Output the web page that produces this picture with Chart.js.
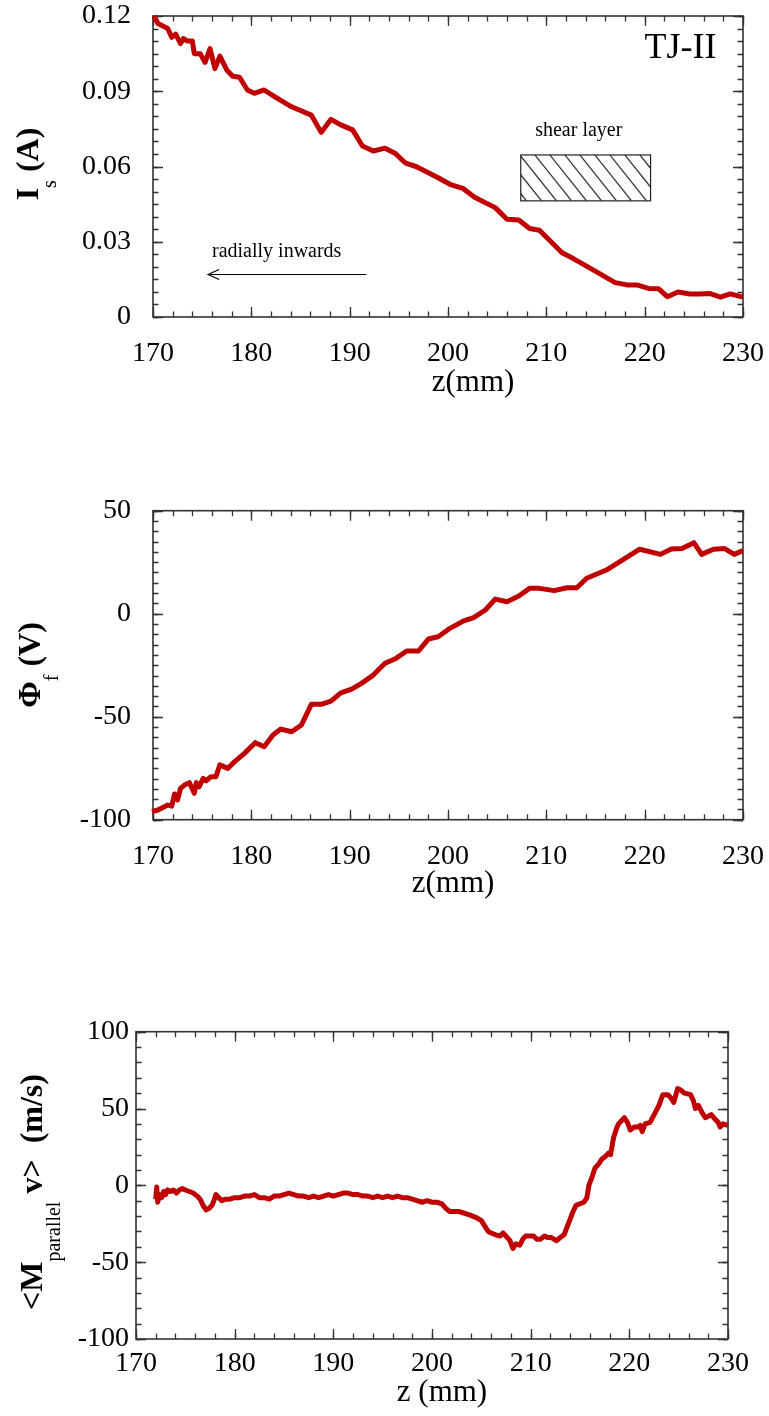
<!DOCTYPE html>
<html>
<head>
<meta charset="UTF-8">
<title>TJ-II edge profiles</title>
<script src="https://cdn.jsdelivr.net/npm/chart.js@4.4.1/dist/chart.umd.min.js"></script>
<style>
  body { margin: 0; background: #fff; width: 769px; height: 1416px; position: relative; overflow: hidden; }
  .panel { position: absolute; left: 0; width: 769px; }
</style>
</head>
<body>
<div class="panel" style="top:0;height:420px"><canvas id="c1"></canvas></div>
<div class="panel" style="top:470px;height:440px"><canvas id="c2"></canvas></div>
<div class="panel" style="top:990px;height:426px"><canvas id="c3"></canvas></div>

<script>
// ---- data ----
const zTicks = [170, 180, 190, 200, 210, 220, 230];

// ion saturation current I_s (A)
const zIs = [170.1,170.5,171.0,171.5,171.9,172.3,172.8,173.1,173.5,174.0,
  174.2,174.8,175.3,175.8,176.3,176.8,177.5,178.1,178.8,179.6,
  180.3,181.3,182.4,184.1,186.1,187.1,188.1,189.1,190.3,191.3,
  192.4,193.6,194.6,195.7,196.8,198.9,200.2,201.5,202.7,204.8,
  206.0,207.2,208.3,209.3,211.6,212.7,214.8,217.0,218.2,219.2,
  220.4,221.4,222.3,223.4,224.6,225.6,226.6,227.7,228.7,230.0];
const iSat = [0.120,0.117,0.116,0.115,0.1115,0.1128,0.109,0.111,0.110,0.110,
  0.105,0.105,0.1015,0.107,0.099,0.104,0.0985,0.096,0.0956,0.0905,
  0.0892,0.0905,0.0878,0.0838,0.0805,0.0736,0.0788,0.0766,0.0746,0.0682,
  0.0662,0.0673,0.0653,0.0613,0.0599,0.0557,0.0529,0.0513,0.0477,0.0436,
  0.0390,0.0387,0.0353,0.0346,0.0256,0.0234,0.0187,0.0137,0.0128,0.0128,
  0.0114,0.0113,0.0081,0.0100,0.0092,0.0092,0.0094,0.0079,0.0092,0.0079];
const isTicks = [0, 0.03, 0.06, 0.09, 0.12];

// floating potential Phi_f (V)
const zPhi = [169.9,170.5,171.5,171.9,172.2,172.5,172.8,173.2,173.7,174.2,
  174.4,174.7,175.1,175.4,175.9,176.4,176.8,177.6,178.3,179.3,
  180.4,181.3,182.2,183.0,184.1,185.1,186.1,187.1,188.1,189.1,
  190.2,191.2,192.4,193.6,194.7,195.8,197.0,198.0,199.0,200.2,
  201.6,202.6,203.8,204.8,206.0,207.2,208.3,209.3,210.8,212.1,
  213.1,214.1,216.1,217.6,219.5,221.6,222.7,223.8,225.0,225.8,
  227.0,228.1,229.1,230.0];
const phiF = [-96.1,-95.3,-92.9,-93.4,-87.5,-90.4,-84.8,-83.2,-82.0,-87.2,
  -82.0,-84.0,-79.9,-81.1,-79.1,-79.1,-73.4,-75.1,-71.8,-67.8,
  -62.6,-64.6,-58.9,-56.0,-57.3,-54.0,-44.0,-44.0,-42.4,-38.4,
  -36.6,-33.8,-29.8,-24.1,-21.7,-18.1,-18.1,-12.3,-11.2,-7.1,
  -3.5,-1.9,1.8,7.1,5.8,8.6,12.3,12.3,11.2,12.6,
  12.6,17.2,21.2,25.6,31.3,28.8,31.4,31.7,34.5,28.8,
  31.3,31.7,28.8,30.6];
const phiTicks = [-100, -50, 0, 50];

// <M_parallel v> (m/s)
const zMv = [172.0,172.1,172.2,172.4,172.6,172.8,173.0,173.2,173.5,173.8,
  174.1,174.4,174.7,175.0,175.4,175.8,176.2,176.5,176.8,177.1,
  177.4,177.7,177.9,178.1,178.4,178.7,179.0,179.5,180.0,180.5,
  181.0,181.5,182.0,182.5,183.0,183.5,184.0,184.5,185.0,185.5,
  186.0,186.5,187.0,187.5,188.0,188.5,189.0,189.5,190.0,190.5,
  191.0,191.5,192.0,192.5,193.0,193.5,194.0,194.5,195.0,195.5,
  196.0,196.5,197.0,197.5,198.0,198.5,199.0,199.5,200.0,200.5,
  201.0,201.4,201.8,202.2,202.7,203.2,203.7,204.1,204.5,205.0,
  205.4,205.7,206.0,206.4,206.9,207.2,207.5,207.9,208.2,208.5,
  208.9,209.2,209.5,209.9,210.3,210.6,211.0,211.4,211.7,212.1,
  212.6,213.0,213.4,213.7,214.0,214.3,214.6,215.0,215.4,215.7,
  215.9,216.2,216.5,216.9,217.2,217.6,217.9,218.1,218.4,218.7,
  218.9,219.2,219.5,219.8,220.1,220.5,220.9,221.1,221.3,221.6,
  222.1,222.6,223.0,223.4,223.9,224.2,224.5,224.9,225.2,225.6,
  226.2,226.5,226.7,227.0,227.4,227.7,228.0,228.3,228.7,229.0,
  229.2,229.5,230.0];
const mv = [-9,-1,-11,-6,-8,-4,-6,-3,-4,-3,
  -5,-3,-2,-3,-4,-5,-7,-9,-13,-16,
  -15,-13,-10,-6,-8,-10,-9,-9,-8,-8,
  -7,-7,-6,-8,-8,-9,-7,-7,-6,-5,
  -6,-7,-7,-8,-7,-8,-7,-6,-7,-6,
  -5,-5,-6,-6,-7,-7,-8,-7,-8,-7,
  -8,-7,-8,-8,-9,-10,-11,-10,-11,-11,
  -12,-15,-17,-17,-17,-18,-19,-20,-21,-23,
  -27,-30,-31,-32,-33,-31,-33,-36,-41,-38,
  -39,-35,-33,-33,-33,-35,-35,-33,-34,-34,
  -36,-34,-32,-27,-22,-17,-13,-12,-11,-8,
  0,5,11,14,17,19,21,20,31,37,
  40,42,44,41,36,38,38,39,35,40,
  41,47,52,59,59,57,54,63,62,60,
  59,55,50,52,47,44,45,46,43,41,
  38,40,39];
const mvTicks = [-100, -50, 0, 50, 100];

// ---- drawing helpers ----
const SERIF = '"Liberation Serif", "Times New Roman", serif';
const RED = '#c00000';

// frame with inward ticks on all four sides, plus axis titles
const framePlugin = {
  id: 'frame',
  beforeDatasetsDraw(chart, args, o) {
    const {ctx, chartArea: a, scales: {x, y}} = chart;
    ctx.save();
    ctx.strokeStyle = '#333';
    ctx.lineWidth = 1.3;
    const tick = (scale, step, len) => {
      const n = Math.round((scale.max - scale.min) / step);
      for (let i = 0; i <= n; i++) {
        const p = Math.round(scale.getPixelForValue(scale.min + i * step)) + 0.5;
        ctx.beginPath();
        if (scale.isHorizontal()) {
          ctx.moveTo(p, a.bottom); ctx.lineTo(p, a.bottom - len);
          ctx.moveTo(p, a.top); ctx.lineTo(p, a.top + len);
        } else {
          ctx.moveTo(a.left, p); ctx.lineTo(a.left + len, p);
          ctx.moveTo(a.right, p); ctx.lineTo(a.right - len, p);
        }
        ctx.stroke();
      }
    };
    tick(x, o.xMinor, 5.5); tick(x, o.xMajor, 10);
    tick(y, o.yMinor, 5.5); tick(y, o.yMajor, 10);
    ctx.lineWidth = 1.6;
    ctx.strokeRect(a.left, a.top, a.right - a.left, a.bottom - a.top);
    ctx.restore();
  },
  afterDraw(chart, args, o) {
    const ctx = chart.ctx;
    ctx.save();
    ctx.fillStyle = '#000';
    ctx.font = '31px ' + SERIF;
    ctx.textAlign = 'center';
    ctx.textBaseline = 'middle';
    ctx.fillText(o.xTitle, o.xTitleX, o.xTitleY);

    // rotated y title built from parts (subscripts dropped to the right)
    const mainFont = 'bold 32px ' + SERIF;
    const subFont = '20px ' + SERIF;
    let total = 0;
    o.yParts.forEach(p => { ctx.font = p.sub ? subFont : mainFont; total += ctx.measureText(p.t).width; });
    ctx.translate(o.yBase, o.yCenter);
    ctx.rotate(-Math.PI / 2);
    ctx.textAlign = 'left';
    ctx.textBaseline = 'alphabetic';
    let px = -total / 2;
    o.yParts.forEach(p => {
      ctx.font = p.sub ? subFont : mainFont;
      ctx.fillText(p.t, px, p.sub ? 18 : 0);
      px += ctx.measureText(p.t).width;
    });
    ctx.restore();
  }
};

// annotations of the top panel
const notesPlugin = {
  id: 'notes',
  beforeDatasetsDraw(chart) {
    const {ctx, scales: {x, y}} = chart;
    ctx.save();
    // hatched "shear layer" box
    const l = x.getPixelForValue(207.4), r = x.getPixelForValue(220.6);
    const t = y.getPixelForValue(0.0646), b = y.getPixelForValue(0.0463);
    ctx.save();
    ctx.beginPath(); ctx.rect(l, t, r - l, b - t); ctx.clip();
    ctx.strokeStyle = '#333'; ctx.lineWidth = 1.3;
    const h = b - t;
    for (let k = -h; k < r - l + 5; k += 15) {
      ctx.beginPath();
      ctx.moveTo(l + k, t); ctx.lineTo(l + k + h * 0.8, b);
      ctx.stroke();
    }
    ctx.restore();
    ctx.strokeStyle = '#222'; ctx.lineWidth = 1.2;
    ctx.strokeRect(l, t, r - l, b - t);

    ctx.fillStyle = '#000';
    ctx.font = '20px ' + SERIF;
    ctx.textAlign = 'center'; ctx.textBaseline = 'middle';
    ctx.fillText('shear layer', x.getPixelForValue(213.3), y.getPixelForValue(0.0742));

    ctx.textAlign = 'left';
    ctx.fillText('radially inwards', x.getPixelForValue(176.0), y.getPixelForValue(0.0262));

    // arrow pointing inwards (to smaller z)
    const ay = Math.round(y.getPixelForValue(0.0171)) + 0.5;
    const ax0 = x.getPixelForValue(191.7), ax1 = x.getPixelForValue(175.6);
    ctx.strokeStyle = '#000'; ctx.lineWidth = 1.2;
    ctx.beginPath(); ctx.moveTo(ax0, ay); ctx.lineTo(ax1 + 2, ay); ctx.stroke();
    ctx.beginPath();
    ctx.moveTo(ax1 + 11, ay - 5); ctx.lineTo(ax1, ay); ctx.lineTo(ax1 + 11, ay + 5);
    ctx.stroke();

    ctx.font = '36px ' + SERIF;
    ctx.textAlign = 'right'; ctx.textBaseline = 'alphabetic';
    ctx.fillText('TJ-II', x.getPixelForValue(227.3), y.getPixelForValue(0.1033));
    ctx.restore();
  }
};

function makeChart(id, cfg) {
  const pts = cfg.z.map((z, i) => ({x: z, y: cfg.v[i]}));
  return new Chart(document.getElementById(id), {
    type: 'line',
    data: {
      datasets: [{
        data: pts,
        borderColor: RED,
        borderWidth: cfg.lineWidth,
        borderJoinStyle: 'round',
        pointRadius: 0,
        tension: 0,
        clip: false
      }]
    },
    options: {
      responsive: true,
      maintainAspectRatio: false,
      animation: false,
      layout: { padding: cfg.padding },
      plugins: {
        legend: { display: false },
        tooltip: { enabled: false },
        frame: cfg.frame
      },
      scales: {
        x: {
          type: 'linear',
          min: 170, max: 230,
          afterBuildTicks: s => { s.ticks = zTicks.map(v => ({value: v})); },
          afterFit: s => { s.height = 60; s.paddingLeft = 0; s.paddingRight = 0; },
          grid: { display: false, drawTicks: false },
          border: { display: false },
          ticks: {
            autoSkip: false, maxRotation: 0,
            padding: cfg.xPad, color: '#000',
            font: { family: SERIF, size: 28, lineHeight: 1 }
          }
        },
        y: {
          min: cfg.yTicks[0], max: cfg.yTicks[cfg.yTicks.length - 1],
          afterBuildTicks: s => { s.ticks = cfg.yTicks.map(v => ({value: v})); },
          afterFit: s => { s.width = cfg.yWidth; s.paddingTop = 0; s.paddingBottom = 0; },
          grid: { display: false, drawTicks: false },
          border: { display: false },
          ticks: {
            autoSkip: false,
            padding: cfg.yPad, color: '#000',
            font: { family: SERIF, size: 28, lineHeight: 1 },
            callback: cfg.yFormat
          }
        }
      }
    },
    plugins: cfg.extra ? [framePlugin, cfg.extra] : [framePlugin]
  });
}

makeChart('c1', {
  z: zIs, v: iSat, yTicks: isTicks, lineWidth: 5,
  padding: { top: 16, right: 26, bottom: 43, left: 0 },
  yWidth: 153, xPad: 23, yPad: 22,
  yFormat: v => v === 0 ? '0' : v.toFixed(2),
  frame: {
    xMinor: 2, xMajor: 10, yMinor: 0.005, yMajor: 0.03,
    xTitle: 'z(mm)', xTitleX: 473, xTitleY: 383,
    yBase: 38, yCenter: 164,
    yParts: [{t: 'I'}, {t: 's', sub: true}, {t: ' (A)'}]
  },
  extra: notesPlugin
});

makeChart('c2', {
  z: zPhi, v: phiF, yTicks: phiTicks, lineWidth: 5,
  padding: { top: 40.7, right: 26, bottom: 30.3, left: 0 },
  yWidth: 153, xPad: 23, yPad: 22,
  yFormat: v => String(v),
  frame: {
    xMinor: 2, xMajor: 10, yMinor: 5, yMajor: 50,
    xTitle: 'z(mm)', xTitleX: 453, xTitleY: 414,
    yBase: 40, yCenter: 195,
    yParts: [{t: '\u03A6'}, {t: 'f', sub: true}, {t: ' (V)'}]
  }
});

makeChart('c3', {
  z: zMv, v: mv, yTicks: mvTicks, lineWidth: 5,
  padding: { top: 41.7, right: 41, bottom: 17, left: 0 },
  yWidth: 136, xPad: 11, yPad: 7,
  yFormat: v => String(v),
  frame: {
    xMinor: 2, xMajor: 10, yMinor: 10, yMajor: 50,
    xTitle: 'z (mm)', xTitleX: 442, xTitleY: 403,
    yBase: 42, yCenter: 202,
    yParts: [{t: '<M'}, {t: 'parallel', sub: true}, {t: ' v>  (m/s)'}]
  }
});
</script>
</body>
</html>
